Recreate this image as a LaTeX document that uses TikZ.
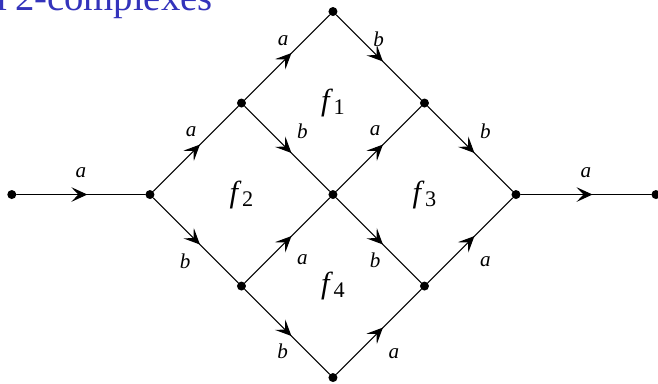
\documentclass[tikz,border=0pt]{standalone}
\usepackage{fontspec}
\setmainfont{Liberation Serif}
\usetikzlibrary{arrows.meta,decorations.markings}
\definecolor{titleblue}{RGB}{51,51,187}
\newcommand{\fsub}[1]{\textit{f}\kern0.5pt\raisebox{-3.5pt}{\fontsize{19}{19}\selectfont #1}}

\begin{document}
\begin{tikzpicture}[x=2.745cm, y=2.745cm, line cap=round, line join=round,
    vtx/.style={circle, fill, inner sep=0pt, minimum size=0.27cm},
    edge/.style={line width=0.9pt, postaction={decorate},
      decoration={markings, mark=at position 0.55 with
        {\arrow{Stealth[length=4.8mm, width=4.4mm, inset=2.1mm]}}}},
    lab/.style={font=\fontsize{18}{18}\selectfont\itshape, inner sep=2pt,
      text height=8pt, text depth=0pt},
    face/.style={font=\fontsize{26}{26}\selectfont}]
  \useasboundingbox (-3.639,-2.060) rectangle (3.552,2.126);
  \node[anchor=base west, inner sep=0pt, text=titleblue,
    font=\fontsize{33}{33}\selectfont] (title) at (-3.672,2.016)
    {r\hspace{0.13em}2-complexes};
  % vertices
  \node[vtx] (L) at (-3.51,0) {};
  \node[vtx] (A) at (-2,0) {};
  \node[vtx] (B) at (-1,1) {};
  \node[vtx] (T) at (0,2) {};
  \node[vtx] (C) at (1,1) {};
  \node[vtx] (O) at (0,0) {};
  \node[vtx] (R) at (2,0) {};
  \node[vtx] (Rr) at (3.53,0) {};
  \node[vtx] (D) at (-1,-1) {};
  \node[vtx] (E) at (1,-1) {};
  \node[vtx] (Bt) at (0,-2) {};
  % edges
  \draw[edge] (L) -- node[lab, above=12pt] (eLA) {a} (A);
  \draw[edge] (R) -- node[lab, above=12pt] (eRR) {a} (Rr);
  \draw[edge] (A) -- node[lab, above=8pt, xshift=-4pt] (eAB) {a} (B);
  \draw[edge] (B) -- node[lab, above=7.5pt, xshift=-3.5pt] (eBT) {a} (T);
  \draw[edge] (T) -- node[lab, above=6.5pt] (eTC) {b} (C);
  \draw[edge] (C) -- node[lab, above right=6pt] (eCR) {b} (R);
  \draw[edge] (B) -- node[lab, above right=6pt] (eBO) {b} (O);
  \draw[edge] (O) -- node[lab, above=9pt, xshift=-3pt] (eOC) {a} (C);
  \draw[edge] (A) -- node[lab, below=14pt, xshift=-9pt] (eAD) {b} (D);
  \draw[edge] (D) -- node[lab, below right=6pt, yshift=-4pt] (eDO) {a} (O);
  \draw[edge] (O) -- node[lab, below=13pt, xshift=-3pt] (eOE) {b} (E);
  \draw[edge] (E) -- node[lab, below right=6pt, yshift=-6pt] (eER) {a} (R);
  \draw[edge] (D) -- node[lab, below=12.5pt, xshift=-4pt] (eDB) {b} (Bt);
  \draw[edge] (Bt) -- node[lab, below right=6pt, yshift=-6pt] (eBE) {a} (E);
  % faces
  \node[face] (f1) at (0,1.0) {\fsub{1}};
  \node[face] (f2) at (-1,0) {\fsub{2}};
  \node[face] (f3) at (1,0) {\fsub{3}};
  \node[face] (f4) at (0,-1) {\fsub{4}};
\end{tikzpicture}
\end{document}
